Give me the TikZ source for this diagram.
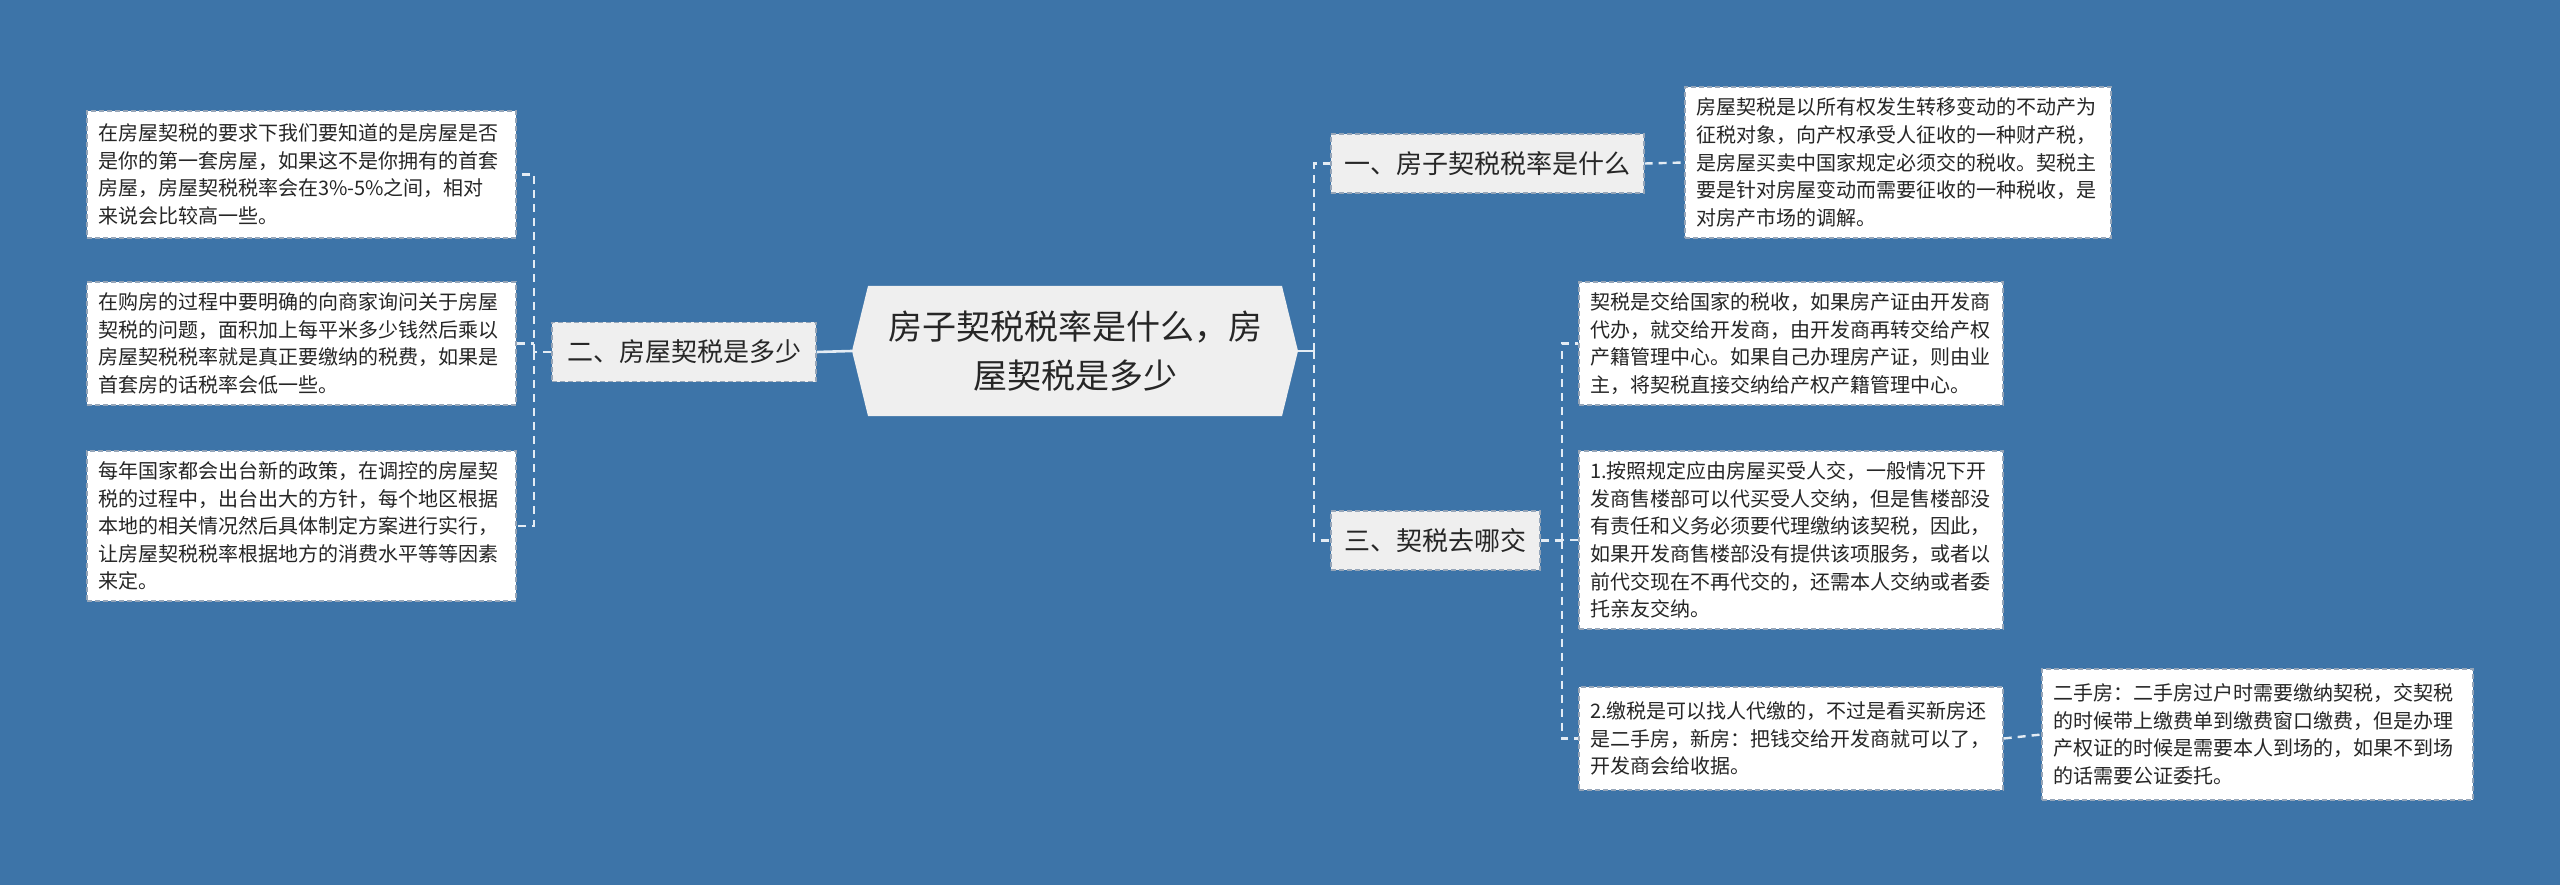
\documentclass[tikz,border=0pt]{standalone}
\usepackage{fontspec}
\setmainfont{Noto Sans CJK SC}
\usetikzlibrary{calc}
\definecolor{bgc}{HTML}{3D74A8}
\definecolor{lvl}{HTML}{EFEFEF}
\definecolor{bord}{HTML}{95A5B8}
\definecolor{conc}{HTML}{E4ECF4}
\definecolor{txt}{HTML}{262626}
\begin{document}
\begin{tikzpicture}[x=1pt,y=-1pt,
  detail/.style={draw=bord,line width=1.4pt,dash pattern=on 5pt off 3pt,fill=white,
    text=txt,align=left,inner xsep=11pt,inner ysep=6pt,
    font=\fontsize{20}{27.6}\selectfont},
  lvlone/.style={draw=bord,line width=1.4pt,dash pattern=on 5pt off 3pt,fill=lvl,
    text=txt,inner sep=0pt,font=\fontsize{26}{30}\selectfont},
  conn/.style={draw=conc,line width=2.4pt,dash pattern=on 8pt off 6pt},
  solidconn/.style={draw=conc,line width=2.6pt}]
\fill[bgc] (0,0) rectangle (2560,885);
\useasboundingbox (0,0) rectangle (2560,885);

% central hexagon
\coordinate (cL) at (852,351);
\coordinate (cR) at (1298,351);
\fill[lvl] (cL) -- (868,286) -- (1282,286) -- (cR) -- (1282,416) -- (868,416) -- cycle;
\node[text=txt,align=center,font=\fontsize{34}{49}\selectfont] (c) at (1075,351)
  {房子契税税率是什么，房\\屋契税是多少};

% level one
\node[lvlone,minimum width=264pt,minimum height=59pt] (n2) at (684,352) {二、房屋契税是多少};
\node[lvlone,minimum width=313pt,minimum height=59pt] (n1) at (1487.5,163.5) {一、房子契税税率是什么};
\node[lvlone,minimum width=209pt,minimum height=59pt] (n3) at (1435.5,540.5) {三、契税去哪交};

% left details
\node[detail,text width=407pt,minimum height=127pt] (L1) at (301.5,174.5)
 {在房屋契税的要求下我们要知道的是房屋是否\\是你的第一套房屋，如果这不是你拥有的首套\\房屋，房屋契税税率会在3\%-5\%之间，相对\\来说会比较高一些。};
\node[detail,text width=407pt,minimum height=123pt] (L2) at (301.5,343.5)
 {在购房的过程中要明确的向商家询问关于房屋\\契税的问题，面积加上每平米多少钱然后乘以\\房屋契税税率就是真正要缴纳的税费，如果是\\首套房的话税率会低一些。};
\node[detail,text width=407pt,minimum height=150pt] (L3) at (301.5,526)
 {每年国家都会出台新的政策，在调控的房屋契\\税的过程中，出台出大的方针，每个地区根据\\本地的相关情况然后具体制定方案进行实行，\\让房屋契税税率根据地方的消费水平等等因素\\来定。};

% right details
\node[detail,text width=404pt,minimum height=151pt] (R1) at (1898,162.5)
 {房屋契税是以所有权发生转移变动的不动产为\\征税对象，向产权承受人征收的一种财产税，\\是房屋买卖中国家规定必须交的税收。契税主\\要是针对房屋变动而需要征收的一种税收，是\\对房产市场的调解。};
\node[detail,text width=402pt,minimum height=123pt] (Ra) at (1791,343.5)
 {契税是交给国家的税收，如果房产证由开发商\\代办，就交给开发商，由开发商再转交给产权\\产籍管理中心。如果自己办理房产证，则由业\\主，将契税直接交纳给产权产籍管理中心。};
\node[detail,text width=402pt,minimum height=178pt] (Rb) at (1791,540)
 {1.按照规定应由房屋买受人交，一般情况下开\\发商售楼部可以代买受人交纳，但是售楼部没\\有责任和义务必须要代理缴纳该契税，因此，\\如果开发商售楼部没有提供该项服务，或者以\\前代交现在不再代交的，还需本人交纳或者委\\托亲友交纳。};
\node[detail,text width=402pt,minimum height=103pt] (Rc) at (1791,738.5)
 {2.缴税是可以找人代缴的，不过是看买新房还\\是二手房，新房：把钱交给开发商就可以了，\\开发商会给收据。};
\node[detail,text width=409pt,minimum height=131pt] (Rd) at (2257.5,734.5)
 {二手房：二手房过户时需要缴纳契税，交契税\\的时候带上缴费单到缴费窗口缴费，但是办理\\产权证的时候是需要本人到场的，如果不到场\\的话需要公证委托。};

% connectors
\coordinate (spL) at (534,352);
\coordinate (spR) at (1314,351);
\coordinate (spR2) at (1562,540.5);

\draw[solidconn] (cL) -- (n2.east);
\draw[conn] (n2.west) -- (spL);
\draw[conn] (spL) |- (L1.east);
\draw[conn] (spL) |- (L3.east);
\draw[conn] (L2.east) -- (L2.east -| spL);

\draw[solidconn] (cR) -- (spR);
\draw[conn] (spR) |- (n1.west);
\draw[conn] (spR) |- (n3.west);
\draw[conn] (n1.east) -- (R1.west);

\draw[conn] (n3.east) -- (spR2);
\draw[conn] (spR2) |- (Ra.west);
\draw[conn] (spR2) |- (Rc.west);
\draw[conn] (Rb.west) -- (Rb.west -| spR2);
\draw[conn] (Rc.east) -- (Rd.west);
\end{tikzpicture}
\end{document}
